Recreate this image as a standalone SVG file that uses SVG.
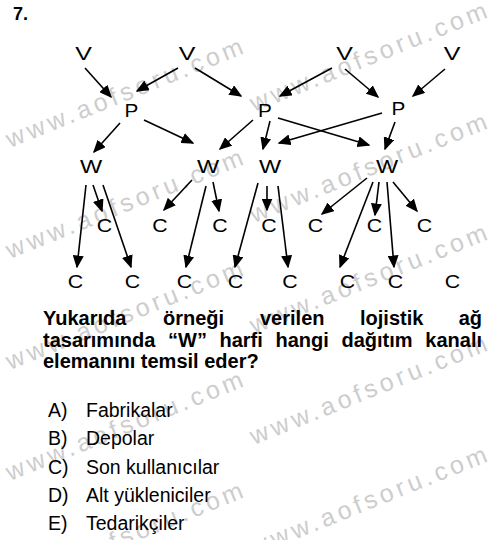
<svg xmlns="http://www.w3.org/2000/svg" width="500" height="540" viewBox="0 0 500 540">
<style>
.wm{font-family:"Liberation Sans",Arial,sans-serif;font-size:25px;letter-spacing:4px;fill:#cdcdcd}
.n{font-family:"Liberation Sans",Arial,sans-serif;font-size:18.5px;text-anchor:middle;fill:#000}
.q{font-family:"Liberation Sans",Arial,sans-serif;font-size:20px;font-weight:bold;fill:#000}
.o{font-family:"Liberation Sans",Arial,sans-serif;font-size:19.5px;fill:#000}
.e line{stroke:#000;stroke-width:1.6;marker-end:url(#ah)}
</style>
<defs>
<marker id="ah" viewBox="0 0 13 11" refX="11.5" refY="5.5" markerWidth="13" markerHeight="11" orient="auto" markerUnits="userSpaceOnUse">
<path d="M0,0 L13,5.5 L0,11 z" fill="#000"/>
</marker>
</defs>
<rect width="500" height="540" fill="#fff"/>
<g id="watermarks">
<text class="wm" transform="translate(10 148) rotate(-22)">www.aofsoru.com</text>
<text class="wm" transform="translate(10 259) rotate(-22)">www.aofsoru.com</text>
<text class="wm" transform="translate(10 370) rotate(-22)">www.aofsoru.com</text>
<text class="wm" transform="translate(10 481) rotate(-22)">www.aofsoru.com</text>
<text class="wm" transform="translate(10 592) rotate(-22)">www.aofsoru.com</text>
<text class="wm" transform="translate(254 112) rotate(-22)">www.aofsoru.com</text>
<text class="wm" transform="translate(254 223) rotate(-22)">www.aofsoru.com</text>
<text class="wm" transform="translate(254 334) rotate(-22)">www.aofsoru.com</text>
<text class="wm" transform="translate(254 445) rotate(-22)">www.aofsoru.com</text>
<text class="wm" transform="translate(254 556) rotate(-22)">www.aofsoru.com</text>
</g>
<text x="13" y="20" style="font-family:'Liberation Sans',Arial,sans-serif;font-size:18px;font-weight:bold">7.</text>
<g class="e" id="connectors">
<line x1="85" y1="68" x2="111" y2="97"/>
<line x1="178" y1="68" x2="137" y2="91"/>
<line x1="195" y1="68" x2="241" y2="96"/>
<line x1="332" y1="68" x2="280" y2="96"/>
<line x1="345" y1="69" x2="378" y2="97"/>
<line x1="445" y1="69" x2="413" y2="96"/>
<line x1="120" y1="123" x2="94" y2="152"/>
<line x1="144" y1="120" x2="193" y2="143"/>
<line x1="253" y1="120" x2="220" y2="149"/>
<line x1="270" y1="121" x2="263" y2="149"/>
<line x1="278" y1="118" x2="369" y2="145"/>
<line x1="382" y1="113" x2="279" y2="143"/>
<line x1="395" y1="122" x2="385" y2="149"/>
<line x1="86" y1="185" x2="77" y2="267"/>
<line x1="93" y1="185" x2="102" y2="211"/>
<line x1="103" y1="185" x2="131" y2="267"/>
<line x1="192" y1="180" x2="164" y2="210"/>
<line x1="206" y1="186" x2="186" y2="267"/>
<line x1="213" y1="182" x2="219" y2="211"/>
<line x1="258" y1="183" x2="235" y2="267"/>
<line x1="267" y1="186" x2="267" y2="210"/>
<line x1="278" y1="186" x2="288" y2="267"/>
<line x1="367" y1="178" x2="322" y2="214"/>
<line x1="373" y1="182" x2="340" y2="267"/>
<line x1="379" y1="182" x2="375" y2="215"/>
<line x1="387" y1="182" x2="394" y2="267"/>
<line x1="393" y1="182" x2="417" y2="211"/>
</g>
<g id="V1"><text class="n" transform="translate(83.5 60) scale(1.35 1)">V</text></g>
<g id="V2"><text class="n" transform="translate(187 60) scale(1.35 1)">V</text></g>
<g id="V3"><text class="n" transform="translate(344.5 60) scale(1.35 1)">V</text></g>
<g id="V4"><text class="n" transform="translate(452 60) scale(1.35 1)">V</text></g>
<g id="P1"><text class="n" transform="translate(131.5 117) scale(1.12 1)">P</text></g>
<g id="P2"><text class="n" transform="translate(265 117) scale(1.12 1)">P</text></g>
<g id="P3"><text class="n" transform="translate(398.5 115) scale(1.12 1)">P</text></g>
<g id="W1"><text class="n" transform="translate(91 173) scale(1.27 1)">W</text></g>
<g id="W2"><text class="n" transform="translate(208 173) scale(1.27 1)">W</text></g>
<g id="W3"><text class="n" transform="translate(270 173) scale(1.27 1)">W</text></g>
<g id="W4"><text class="n" transform="translate(387 173) scale(1.27 1)">W</text></g>
<g id="C1"><text class="n" transform="translate(104.5 232) scale(1.15 1)">C</text></g>
<g id="C2"><text class="n" transform="translate(160 232) scale(1.15 1)">C</text></g>
<g id="C3"><text class="n" transform="translate(220 232) scale(1.15 1)">C</text></g>
<g id="C4"><text class="n" transform="translate(269 232) scale(1.15 1)">C</text></g>
<g id="C5"><text class="n" transform="translate(315.5 232) scale(1.15 1)">C</text></g>
<g id="C6"><text class="n" transform="translate(374.5 232) scale(1.15 1)">C</text></g>
<g id="C7"><text class="n" transform="translate(424.5 232) scale(1.15 1)">C</text></g>
<g id="C8"><text class="n" transform="translate(75.5 288) scale(1.15 1)">C</text></g>
<g id="C9"><text class="n" transform="translate(132.5 288) scale(1.15 1)">C</text></g>
<g id="C10"><text class="n" transform="translate(184.5 288) scale(1.15 1)">C</text></g>
<g id="C11"><text class="n" transform="translate(235.5 288) scale(1.15 1)">C</text></g>
<g id="C12"><text class="n" transform="translate(290 288) scale(1.15 1)">C</text></g>
<g id="C13"><text class="n" transform="translate(347.5 288) scale(1.15 1)">C</text></g>
<g id="C14"><text class="n" transform="translate(395.5 288) scale(1.15 1)">C</text></g>
<g id="C15"><text class="n" transform="translate(452.5 288) scale(1.15 1)">C</text></g>
<g id="question">
<text class="q" y="325"><tspan x="43">Yukarıda</tspan><tspan x="163">örneği</tspan><tspan x="260">verilen</tspan><tspan x="360">lojistik</tspan><tspan x="458.7">ağ</tspan></text>
<text class="q" y="347"><tspan x="43">tasarımında</tspan><tspan x="168">“W”</tspan><tspan x="219.5">harfi</tspan><tspan x="275.5">hangi</tspan><tspan x="341.5">dağıtım</tspan><tspan x="425.3">kanalı</tspan></text>
<text class="q" x="43" y="368">elemanını temsil eder?</text>
</g>
<g id="options">
<text class="o" x="48" y="417">A)</text><text class="o" x="86" y="417">Fabrikalar</text>
<text class="o" x="48" y="445">B)</text><text class="o" x="86" y="445">Depolar</text>
<text class="o" x="48" y="473.5">C)</text><text class="o" x="86" y="473.5">Son kullanıcılar</text>
<text class="o" x="48" y="502">D)</text><text class="o" x="86" y="502">Alt yükleniciler</text>
<text class="o" x="48" y="530">E)</text><text class="o" x="86" y="530">Tedarikçiler</text>
</g>
</svg>
